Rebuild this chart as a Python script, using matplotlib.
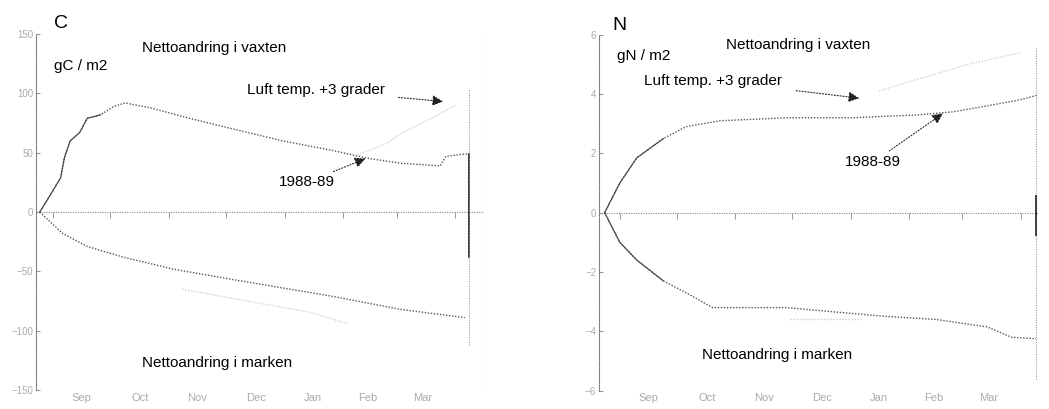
import numpy as np
import matplotlib.pyplot as plt

plt.rcParams['font.family'] = ['Liberation Sans', 'DejaVu Sans']

# days counted from 1 September 1988
month_names = ['Sep', 'Oct', 'Nov', 'Dec', 'Jan', 'Feb', 'Mar']
month_mid = [15, 46, 76, 107, 137, 166, 195]
month_start = [0, 30, 61, 91, 122, 153, 181, 212]

# C, 1988-89
c_plant_day = [-7, -2, 4, 6, 9, 14, 18, 25, 32, 38, 51, 72, 95, 121, 147, 167, 184, 204, 207, 217, 219, 219]
c_plant_val = [0, 13, 29, 46, 60, 67, 79, 82, 89, 92, 88, 79, 70, 60, 52, 45, 41, 39, 47, 49, 49, -38]
c_soil_day = [-7, 5, 18, 37, 63, 95, 121, 147, 183, 217]
c_soil_val = [0, -18, -29, -38, -48, -57, -64, -71, -82, -89]
# C, luft temp +3 grader (faint in the scan)
c_plant3_day = [160, 176, 184, 192, 204, 212]
c_plant3_val = [48, 58, 67, 73, 83, 90]
c_soil3_day = [68, 102, 134, 155]
c_soil3_val = [-65, -75, -84, -94]

# N, 1988-89
n_plant_day = [-8, 0, 9, 23, 35, 53, 88, 123, 158, 176, 194, 211, 220]
n_plant_val = [0, 1.0, 1.85, 2.5, 2.9, 3.1, 3.2, 3.2, 3.3, 3.4, 3.6, 3.8, 3.95]
n_soil_day = [-8, 0, 9, 23, 35, 49, 88, 114, 141, 167, 194, 207, 220]
n_soil_val = [0, -1.0, -1.6, -2.3, -2.7, -3.2, -3.2, -3.35, -3.5, -3.6, -3.85, -4.2, -4.25]
# N, luft temp +3 grader
n_plant3_day = [137, 152, 184, 212]
n_plant3_val = [4.1, 4.4, 5.0, 5.4]
n_soil3_day = [90, 110, 128]
n_soil3_val = [-3.6, -3.6, -3.6]

gray = '#555555'
faint = '#d0d0d0'
dots = (0, (1, 1.2))

fig = plt.figure(figsize=(10.49, 4.09), dpi=100)
axC = fig.add_axes([0.0343, 0.0465, 0.427, 0.870])
axN = fig.add_axes([0.571, 0.045, 0.4185, 0.870])


def style(ax, xlim, ylim, yticks, ticklen):
    ax.set_xlim(xlim)
    ax.set_ylim(ylim)
    for s in ['top', 'bottom', 'right']:
        ax.spines[s].set_visible(False)
    ax.spines['left'].set_linestyle(dots)
    ax.spines['left'].set_color('#777777')
    ax.set_yticks(yticks)
    ax.tick_params(axis='y', direction='in', length=3, color='#999999',
                   labelsize=7, labelcolor='#aaaaaa', pad=2)
    ax.set_xticks(month_mid)
    ax.set_xticklabels(month_names)
    ax.tick_params(axis='x', length=0, labelsize=8, labelcolor='#aaaaaa', pad=2)
    # zero line with month ticks
    ax.axhline(0, color='#888888', lw=0.8, ls=dots)
    ax.vlines(month_start, -ticklen, 0, color='#999999', lw=0.7)


arrow = dict(arrowstyle='-|>', color='#222222', lw=0.8, ls=':', mutation_scale=16)

# C panel
style(axC, (-9, 227), (-150, 150), [-150, -100, -50, 0, 50, 100, 150], 5)
axC.plot(c_plant_day, c_plant_val, color=gray, lw=1, ls=dots)
axC.plot(c_plant_day[:8], c_plant_val[:8], color='#444444', lw=0.8)
axC.plot(c_plant_day[-2:], c_plant_val[-2:], color='#222222', lw=1.2)
axC.plot(c_soil_day, c_soil_val, color=gray, lw=1, ls=dots)
axC.plot(c_plant3_day, c_plant3_val, color=faint, lw=1, ls=dots)
axC.plot(c_soil3_day, c_soil3_val, color=faint, lw=1, ls=dots)
axC.vlines(219, -112, 104, color='#999999', lw=0.8, ls=dots)
axC.vlines(227, -150, 150, color='#999999', lw=0.8, ls=dots)

axC.text(0.04, 1.055, 'C', transform=axC.transAxes, fontsize=14, va='top')
axC.text(0.04, 0.93, 'gC / m2', transform=axC.transAxes, fontsize=11, va='top')
axC.text(0.237, 0.98, 'Nettoandring i vaxten', transform=axC.transAxes, fontsize=11, va='top')
axC.text(0.237, 0.095, 'Nettoandring i marken', transform=axC.transAxes, fontsize=11, va='top')
axC.annotate('Luft temp. +3 grader', xy=(207, 93), xytext=(102, 103), fontsize=11, va='center',
             arrowprops=dict(arrow, shrinkA=8))
axC.annotate('1988-89', xy=(166, 46), xytext=(119, 25), fontsize=11, va='center',
             arrowprops=dict(arrow, shrinkA=2))

# N panel
style(axN, (-11, 221), (-6, 6), [-6, -4, -2, 0, 2, 4, 6], 0.2)
axN.plot(n_plant_day, n_plant_val, color=gray, lw=1, ls=dots)
axN.plot(n_plant_day[:4], n_plant_val[:4], color='#444444', lw=0.8)
axN.plot(n_soil_day, n_soil_val, color=gray, lw=1, ls=dots)
axN.plot(n_soil_day[:4], n_soil_val[:4], color='#444444', lw=0.8)
axN.plot(n_plant3_day, n_plant3_val, color=faint, lw=1, ls=dots)
axN.plot(n_soil3_day, n_soil3_val, color=faint, lw=1, ls=dots)
axN.vlines(220, -5.6, 5.6, color='#999999', lw=0.8, ls=dots)
axN.vlines(220, -0.8, 0.6, color='#222222', lw=1.2)

axN.text(0.03, 1.05, 'N', transform=axN.transAxes, fontsize=14, va='top')
axN.text(0.04, 0.96, 'gN / m2', transform=axN.transAxes, fontsize=11, va='top')
axN.text(0.29, 0.99, 'Nettoandring i vaxten', transform=axN.transAxes, fontsize=11, va='top')
axN.text(0.235, 0.12, 'Nettoandring i marken', transform=axN.transAxes, fontsize=11, va='top')
axN.annotate('Luft temp. +3 grader', xy=(128, 3.85), xytext=(13, 4.45), fontsize=11, va='center',
             arrowprops=dict(arrow, shrinkA=8))
axN.annotate('1988-89', xy=(172, 3.4), xytext=(119, 1.7), fontsize=11, va='center',
             arrowprops=dict(arrow, shrinkA=2))

plt.savefig('out.png', dpi=100)
